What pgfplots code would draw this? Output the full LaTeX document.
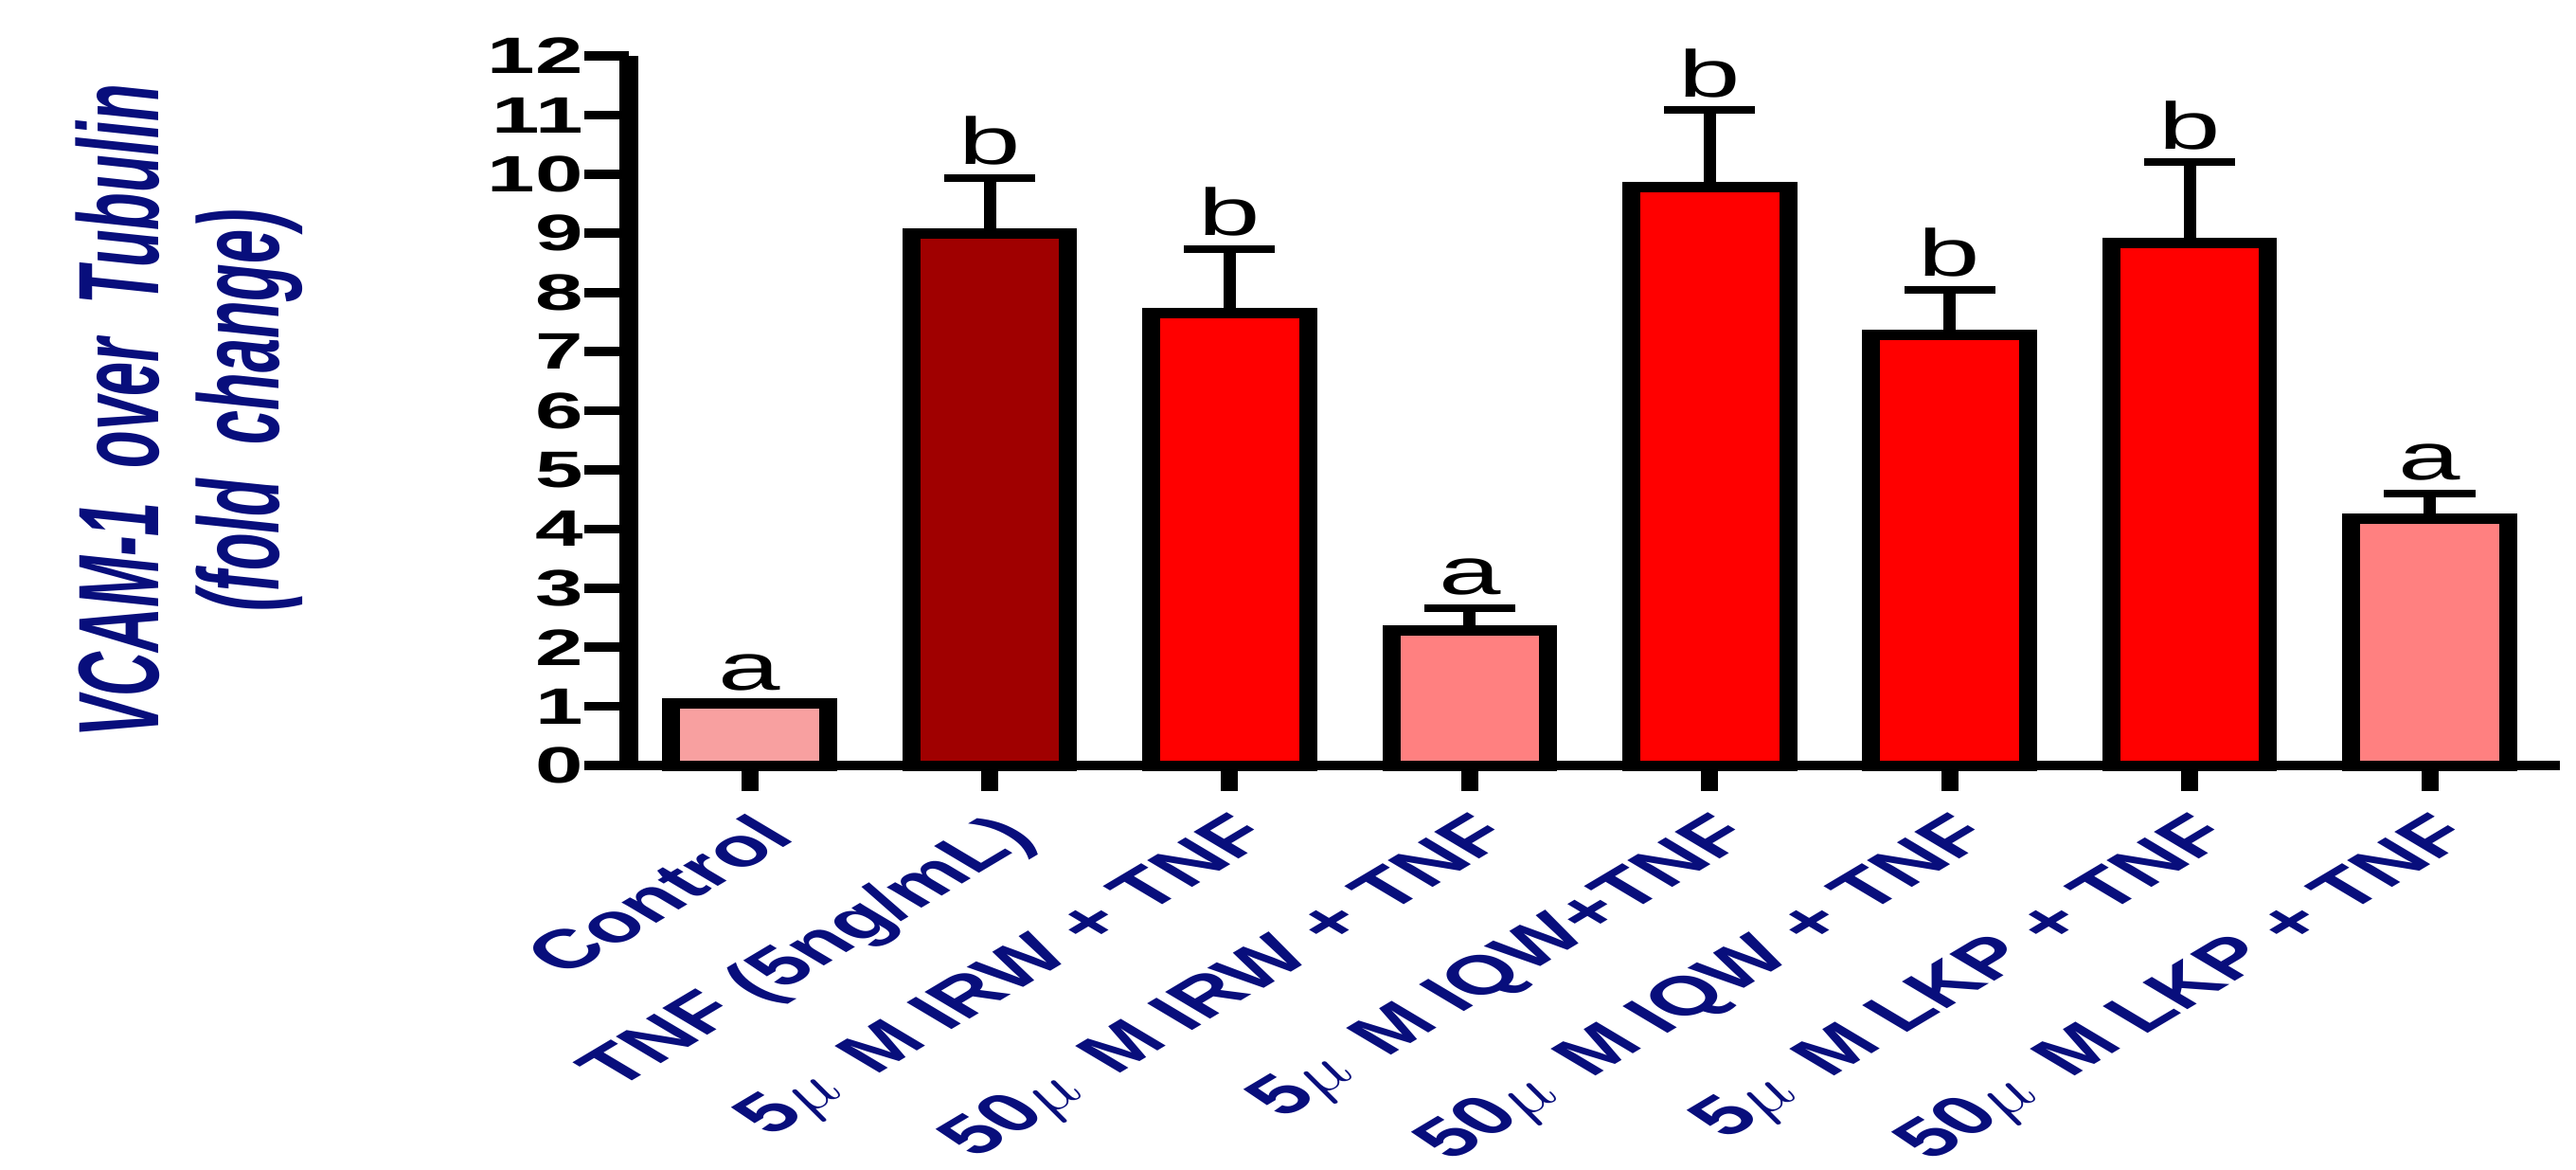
\documentclass[border=0pt]{standalone}
\usepackage{fontspec}
\setmainfont{Liberation Sans}
\usepackage{pgfplots}
\pgfplotsset{compat=1.18}
\usepackage{pgfplotstable}

\definecolor{ctrlpink}{RGB}{248,160,160}
\definecolor{tnfdark}{RGB}{160,0,0}
\definecolor{pepred}{RGB}{255,0,0}
\definecolor{peplight}{RGB}{255,128,128}
\definecolor{navyblue}{RGB}{8,14,124}

\newcommand\ytfont{\fontsize{13.5}{16}\selectfont\bfseries}
\newcommand\xlfont{\fontsize{14.5}{17}\selectfont\bfseries}
\newcommand\ylfont{\fontsize{18}{19}\selectfont\bfseries\itshape}
\newcommand\anfont{\fontsize{17.5}{20}\selectfont}
\newcommand\umu{$\mu$}

\pgfplotstableread{
x v err top lab
0 1.05 0    1.05  a
1 9.00 0.94 9.94  b
2 7.65 1.08 8.73  b
3 2.29 0.37 2.66  a
4 9.78 1.30 11.08 b
5 7.28 0.76 8.04  b
6 8.84 1.36 10.20 b
7 4.17 0.43 4.60  a
}\alldata
\pgfplotstableread{
x v
0 1.05
}\ctrldata
\pgfplotstableread{
x v
1 9.00
}\tnfdata
\pgfplotstableread{
x v
2 7.65
4 9.78
5 7.28
6 8.84
}\reddata
\pgfplotstableread{
x v
3 2.29
7 4.17
}\lightdata
\pgfplotstableread{
x v err
1 9.00 0.94
2 7.65 1.08
3 2.29 0.37
4 9.78 1.30
5 7.28 0.76
6 8.84 1.36
7 4.17 0.43
}\errdata

\begin{document}
\begin{tikzpicture}
\begin{axis}[
  scale only axis, width=509.75pt, height=187.25pt,
  xmin=-0.504, xmax=7.543, ymin=0, ymax=12,
  clip=false,
  axis lines=left,
  axis line style={-},
  x axis line style={line width=2.5pt},
  y axis line style={line width=5pt},
  tick align=outside,
  major tick length=11.75pt,
  xtick={0,1,2,3,4,5,6,7},
  xticklabels={Control, TNF (5ng/mL), 5\umu~\,M IRW + TNF, 50\umu~\,M IRW + TNF, 5\umu~\,M IQW+TNF, 50\umu~\,M IQW + TNF, 5\umu~\,M LKP + TNF, 50\umu~\,M LKP + TNF},
  ytick={0,1,2,3,4,5,6,7,8,9,10,11,12},
  /pgf/number format/assume math mode=true,
  xtick style={line width=4.5pt, black, /pgfplots/major tick length=6.75pt},
  ytick style={line width=2.4pt, black},
  yticklabel style={font=\ytfont, xscale=1.68, anchor=east, inner sep=0pt},
  xticklabel style={font=\xlfont, text=navyblue, xscale=1.68, rotate=45, anchor=north east, inner sep=0pt},
  ylabel={VCAM-1\ \ over\ \ Tubulin\\(fold\ \ change)},
  every axis y label/.style={at={(rel axis cs:-0.2276,0.5)}, anchor=center, align=center, font=\ylfont, text=navyblue, xscale=1.68, yscale=0.9, rotate=90},
]
\path (rel axis cs:-0.3256,-0.5661) rectangle (rel axis cs:1.0083,1.0788);
\addplot[ybar, bar shift=0pt, bar width=0.685, fill=black, draw=black, line width=2.75pt]
  table[x=x, y=v] \alldata;
\addplot[draw=none, mark=none,
  error bars/.cd, y dir=plus, y explicit, error mark=|,
  error bar style={draw=black, line width=3.25pt},
  error mark options={draw=black, line width=2pt, mark size=12pt}]
  table[x=x, y=v, y error=err] \errdata;
\addplot[ybar, bar shift=0pt, bar width=0.622, fill=ctrlpink, draw=black, line width=2.75pt] table[x=x, y=v] \ctrldata;
\addplot[ybar, bar shift=0pt, bar width=0.622, fill=tnfdark, draw=black, line width=2.75pt] table[x=x, y=v] \tnfdata;
\addplot[ybar, bar shift=0pt, bar width=0.622, fill=pepred, draw=black, line width=2.75pt] table[x=x, y=v] \reddata;
\addplot[ybar, bar shift=0pt, bar width=0.622, fill=peplight, draw=black, line width=2.75pt] table[x=x, y=v] \lightdata;
\addplot[draw=none, mark=none, nodes near coords={\anfont\pgfplotspointmeta}, point meta=explicit symbolic,
  every node near coord/.style={text=black, anchor=south, inner sep=0pt, yshift=3.2pt, xscale=1.68}]
  table[x=x, y=top, meta=lab] \alldata;
\end{axis}
\end{tikzpicture}
\end{document}
